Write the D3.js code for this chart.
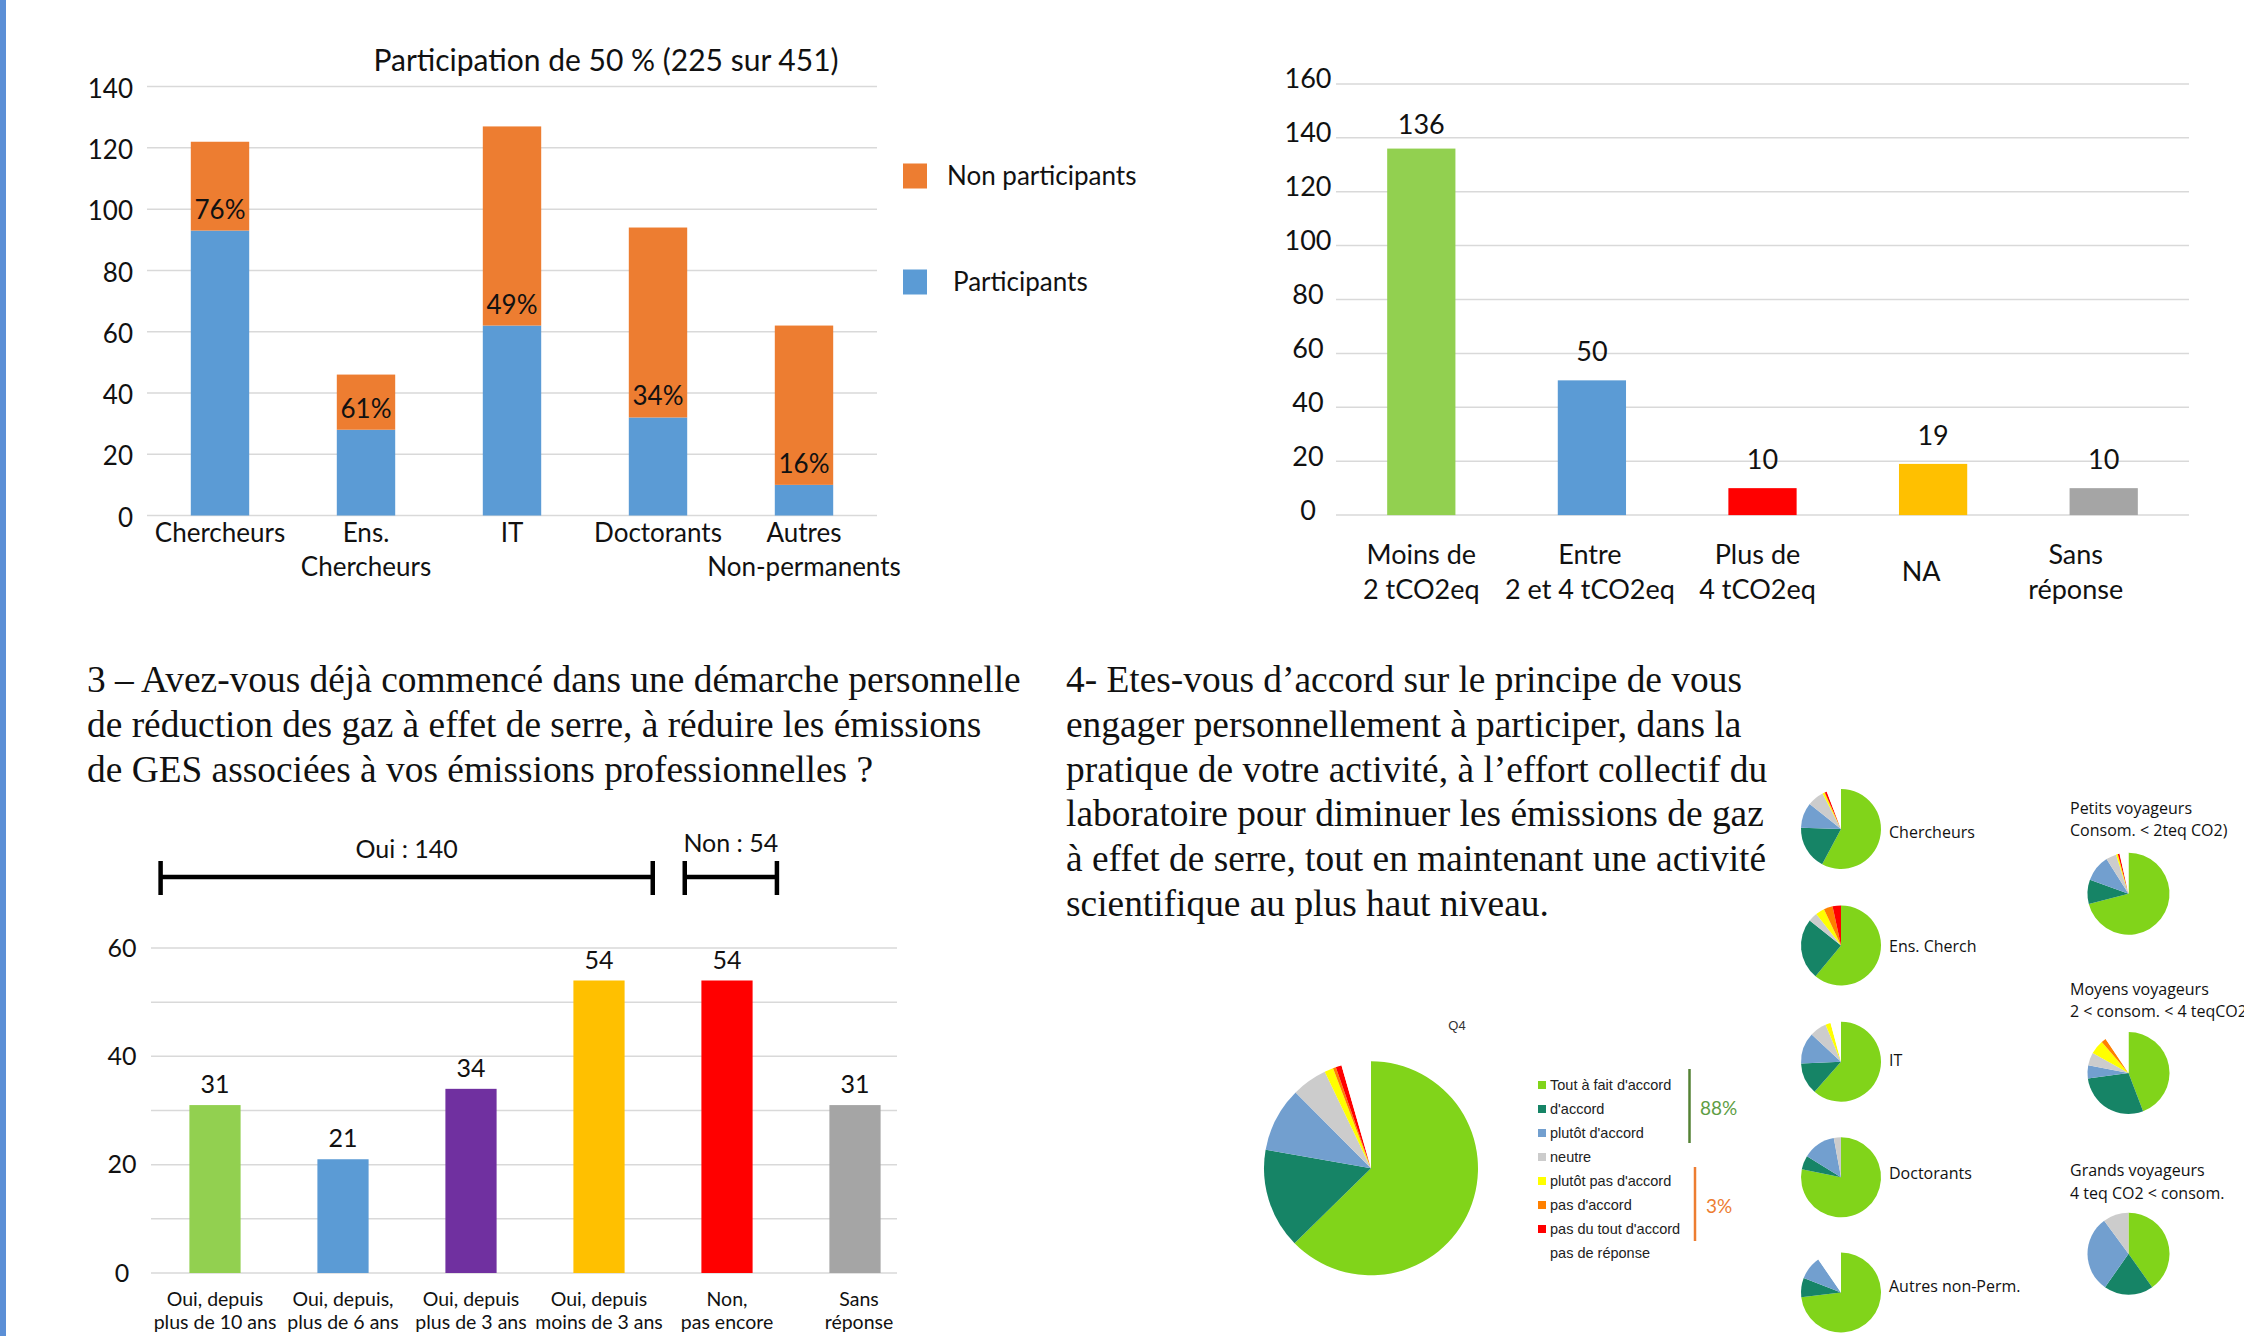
<!DOCTYPE html>
<html><head><meta charset="utf-8">
<script src="https://cdn.jsdelivr.net/npm/d3@7"></script>
<style>body{margin:0;background:#fff} svg{display:block}</style>
</head><body><svg id="c" width="2244" height="1336"></svg>
<script>
// ---------- Data ----------
// Chart 1: participation
const c1Title = "Participation de 50 % (225 sur 451)";
const c1Categories = ["Chercheurs", "Ens. Chercheurs", "IT", "Doctorants", "Autres Non-permanents"];
const c1Labels = [["Chercheurs"], ["Ens.", "Chercheurs"], ["IT"], ["Doctorants"], ["Autres", "Non-permanents"]];
const c1Participants = [93, 28, 62, 32, 10];
const c1NonParticipants = [29, 18, 65, 62, 52];
const c1Rates = ["76%", "61%", "49%", "34%", "16%"];
const c1Ticks = [0, 20, 40, 60, 80, 100, 120, 140];
const c1Series = ["Non participants", "Participants"];

// Chart 2: consumption classes
const c2Categories = ["Moins de 2 tCO2eq", "Entre 2 et 4 tCO2eq", "Plus de 4 tCO2eq", "NA", "Sans réponse"];
const c2Labels = [["Moins de", "2 tCO2eq"], ["Entre", "2 et 4 tCO2eq"], ["Plus de", "4 tCO2eq"], ["NA"], ["Sans", "réponse"]];
const c2Values = [136, 50, 10, 19, 10];
const c2Ticks = [0, 20, 40, 60, 80, 100, 120, 140, 160];

// Chart 3: question 3
const c3Title = ["3 – Avez-vous déjà commencé dans une démarche personnelle",
  "de réduction des gaz à effet de serre, à réduire les émissions",
  "de GES associées à vos émissions professionnelles ?"];
const c3Categories = ["Oui 10", "Oui 6", "Oui 3", "Oui <3", "Non", "Sans réponse"];
const c3Labels = [["Oui, depuis", "plus de 10 ans"], ["Oui, depuis,", "plus de 6 ans"], ["Oui, depuis", "plus de 3 ans"],
  ["Oui, depuis", "moins de 3 ans"], ["Non,", "pas encore"], ["Sans", "réponse"]];
const c3Values = [31, 21, 34, 54, 54, 31];
const c3Ticks = [0, 20, 40, 60];
const c3Grid = [0, 10, 20, 30, 40, 50, 60];
const c3Groups = [{label: "Oui : 140", from: 0, to: 3}, {label: "Non : 54", from: 4, to: 4}];

// Chart 4: question 4
const c4Title = ["4- Etes-vous d’accord sur le principe de vous",
  "engager personnellement à participer, dans la",
  "pratique de votre activité, à l’effort collectif du",
  "laboratoire pour diminuer les émissions de gaz",
  "à effet de serre, tout en maintenant une activité",
  "scientifique au plus haut niveau."];
const q4Answers = ["Tout à fait d'accord", "d'accord", "plutôt d'accord", "neutre",
  "plutôt pas d'accord", "pas d'accord", "pas du tout d'accord", "pas de réponse"];
const q4Total = [141, 34, 22, 12, 3, 1, 2, 10];
const q4Agree = "88%";
const q4Disagree = "3%";
// small pies (shares in %)
const q4Chercheurs = [57.8, 17.7, 10.2, 6.7, 0.8, 0.2, 0.8, 5.8];
const q4EnsCherch = [61, 24.7, 0, 3.7, 3.6, 3.6, 3.4, 0];
const q4IT = [61.5, 12.8, 12.6, 6.8, 2.1, 0, 0, 4.2];
const q4Doctorants = [78.2, 5.6, 13.3, 2.9, 0, 0, 0, 0];
const q4Autres = [73.1, 7.8, 9.5, 0, 0, 0, 0, 9.6];
const q4Petits = [71, 9.5, 10.5, 4.1, 0.7, 0, 0.7, 3.5];
const q4Moyens = [44.2, 28.7, 5.1, 5.1, 5.6, 1.9, 0, 9.4];
const q4Grands = [40.2, 19.5, 30.2, 10.1, 0, 0, 0, 0];
const q4StatusNames = ["Chercheurs", "Ens. Cherch", "IT", "Doctorants", "Autres non-Perm."];
const q4TravelNames = [["Petits voyageurs", "Consom. < 2teq CO2)"], ["Moyens voyageurs", "2 < consom. < 4 teqCO2"],
  ["Grands voyageurs", "4 teq CO2 < consom."]];

// ---------- Drawing ----------
const svg = d3.select("#c");
svg.append("rect").attr("width", 2244).attr("height", 1336).attr("fill", "#fff");
svg.append("rect").attr("x", 0).attr("y", 0).attr("width", 6).attr("height", 1336).attr("fill", "#5B8FD6");

const SANS = "Lato, 'Open Sans', sans-serif";
const SERIF = "'Liberation Serif', 'Times New Roman', serif";
const GRID = "#D9D9D9";
const TXT = "#111";

function multiline(g, lines, x, y0, dyLine, size, fam, anchor) {
  const t = g.append("text").attr("x", x).attr("font-size", size).attr("font-family", fam)
    .attr("text-anchor", anchor || "middle").attr("fill", TXT);
  lines.forEach((l, i) => t.append("tspan").attr("x", x).attr("y", y0 + i * dyLine).attr("dy", "0.35em").text(l));
  return t;
}

// ===== Chart 1 =====
{
  const g = svg.append("g");
  const x = d3.scaleBand().domain(c1Categories).range([147, 877]).paddingInner(0.6).paddingOuter(0.3);
  const y = d3.scaleLinear().domain([0, 140]).range([515.5, 86.6]);
  const col = d3.scaleOrdinal().domain(c1Series).range(["#ED7D31", "#5B9BD5"]);
  g.selectAll(".g1").data(c1Ticks).join("line").attr("x1", 147).attr("x2", 877)
    .attr("y1", d => y(d)).attr("y2", d => y(d)).attr("stroke", GRID).attr("stroke-width", 1.5);
  g.selectAll(".t1").data(c1Ticks).join("text").attr("x", 133).attr("y", d => y(d) + 2).attr("dy", "0.35em")
    .attr("text-anchor", "end").attr("font-family", SANS).attr("font-size", 26).attr("fill", TXT).text(d => d);
  g.selectAll(".bp").data(c1Categories).join("rect").attr("x", d => x(d)).attr("width", x.bandwidth())
    .attr("y", (d, i) => y(c1Participants[i])).attr("height", (d, i) => y(0) - y(c1Participants[i]))
    .attr("fill", col("Participants"));
  g.selectAll(".bn").data(c1Categories).join("rect").attr("x", d => x(d)).attr("width", x.bandwidth())
    .attr("y", (d, i) => y(c1Participants[i] + c1NonParticipants[i]))
    .attr("height", (d, i) => y(c1Participants[i]) - y(c1Participants[i] + c1NonParticipants[i]))
    .attr("fill", col("Non participants"));
  g.selectAll(".rt").data(c1Categories).join("text").attr("x", d => x(d) + x.bandwidth() / 2)
    .attr("y", (d, i) => y(c1Participants[i]) - 12).attr("text-anchor", "middle")
    .attr("font-family", SANS).attr("font-size", 26).attr("fill", TXT).text((d, i) => c1Rates[i]);
  c1Categories.forEach((c, i) => multiline(g, c1Labels[i], x(c) + x.bandwidth() / 2, 532.5, 34.6, 26, SANS));
  g.append("text").attr("x", 606).attr("y", 60).attr("dy", "0.35em").attr("text-anchor", "middle")
    .attr("font-family", SANS).attr("font-size", 30).attr("fill", TXT).text(c1Title);
  const ly = [176, 282];
  c1Series.forEach((s, i) => {
    g.append("rect").attr("x", 903).attr("y", ly[i] - 12.5).attr("width", 24).attr("height", 25).attr("fill", col(s));
    g.append("text").attr("x", i === 0 ? 947 : 953).attr("y", ly[i]).attr("dy", "0.35em")
      .attr("font-family", SANS).attr("font-size", 26).attr("fill", TXT).text(s);
  });
}

// ===== Chart 2 =====
{
  const g = svg.append("g");
  const x = d3.scaleBand().domain(c2Categories).range([1336, 2189]).paddingInner(0.6).paddingOuter(0.3);
  const y = d3.scaleLinear().domain([0, 160]).range([515.1, 83.9]);
  const col = d3.scaleOrdinal().domain(c2Categories).range(["#92D050", "#5B9BD5", "#FF0000", "#FFC000", "#A5A5A5"]);
  const labelShift = [0, -2, -5, -12, -28];
  g.selectAll(".g2").data(c2Ticks).join("line").attr("x1", 1336).attr("x2", 2189)
    .attr("y1", d => y(d)).attr("y2", d => y(d)).attr("stroke", GRID).attr("stroke-width", 1.5);
  g.selectAll(".t2").data(c2Ticks).join("text").attr("x", 1308).attr("y", d => y(d) - 5).attr("dy", "0.35em")
    .attr("text-anchor", "middle").attr("font-family", SANS).attr("font-size", 27).attr("fill", TXT).text(d => d);
  g.selectAll(".b2").data(c2Categories).join("rect").attr("x", d => x(d)).attr("width", x.bandwidth())
    .attr("y", (d, i) => y(c2Values[i])).attr("height", (d, i) => y(0) - y(c2Values[i])).attr("fill", d => col(d));
  g.selectAll(".v2").data(c2Categories).join("text").attr("x", d => x(d) + x.bandwidth() / 2)
    .attr("y", (d, i) => y(c2Values[i]) - (c2Values[i] > 100 ? 15 : 19)).attr("text-anchor", "middle")
    .attr("font-family", SANS).attr("font-size", 27).attr("fill", TXT).text((d, i) => c2Values[i]);
  c2Categories.forEach((c, i) => {
    const l = c2Labels[i];
    multiline(g, l, x(c) + x.bandwidth() / 2 + labelShift[i], l.length === 1 ? 572 : 555, 34.5, 27, SANS);
  });
}

// ===== Chart 3 =====
{
  const g = svg.append("g");
  multiline(g, c3Title, 87, 679, 44.8, 37.4, SERIF, "start");
  svg.append("clipPath").attr("id", "clip3").append("rect").attr("x", 0).attr("y", 800).attr("width", 897).attr("height", 536);
  const gc = g.append("g").attr("clip-path", "url(#clip3)");
  const x = d3.scaleBand().domain(c3Categories).range([151, 919]).paddingInner(0.6).paddingOuter(0.3);
  const y = d3.scaleLinear().domain([0, 60]).range([1273, 948]);
  const col = d3.scaleOrdinal().domain(c3Categories).range(["#92D050", "#5B9BD5", "#7030A0", "#FFC000", "#FF0000", "#A5A5A5"]);
  gc.selectAll(".g3").data(c3Grid).join("line").attr("x1", 151).attr("x2", 897)
    .attr("y1", d => y(d)).attr("y2", d => y(d)).attr("stroke", GRID).attr("stroke-width", 1.5);
  gc.selectAll(".t3").data(c3Ticks).join("text").attr("x", 122).attr("y", d => y(d)).attr("dy", "0.35em")
    .attr("text-anchor", "middle").attr("font-family", SANS).attr("font-size", 25).attr("fill", TXT).text(d => d);
  gc.selectAll(".b3").data(c3Categories).join("rect").attr("x", d => x(d)).attr("width", x.bandwidth())
    .attr("y", (d, i) => y(c3Values[i])).attr("height", (d, i) => y(0) - y(c3Values[i])).attr("fill", d => col(d));
  gc.selectAll(".v3").data(c3Categories).join("text").attr("x", d => x(d) + x.bandwidth() / 2)
    .attr("y", (d, i) => y(c3Values[i]) - 12).attr("text-anchor", "middle")
    .attr("font-family", SANS).attr("font-size", 25).attr("fill", TXT).text((d, i) => c3Values[i]);
  c3Categories.forEach((c, i) => multiline(gc, c3Labels[i], x(c) + x.bandwidth() / 2 + (i === 5 ? 4 : 0), 1299, 23.5, 19.5, SANS));
  // brackets
  const st = x.step(), bw = x.bandwidth();
  const spans = [
    {x0: x(c3Categories[0]) - 0.225 * st, x1: x(c3Categories[3]) + bw + 0.22 * st, y: 877, ty: 849},
    {x0: x(c3Categories[4]) - 0.13 * st, x1: x(c3Categories[4]) + bw + 0.19 * st, y: 877, ty: 843.5}
  ];
  c3Groups.forEach((gr, i) => {
    const s = spans[i];
    g.append("line").attr("x1", s.x0).attr("x2", s.x1).attr("y1", s.y).attr("y2", s.y).attr("stroke", "#000").attr("stroke-width", 4.5);
    [s.x0, s.x1].forEach(xx => g.append("line").attr("x1", xx).attr("x2", xx).attr("y1", s.y - 16).attr("y2", s.y + 18)
      .attr("stroke", "#000").attr("stroke-width", 4.5));
    g.append("text").attr("x", (s.x0 + s.x1) / 2).attr("y", s.ty).attr("dy", "0.35em").attr("text-anchor", "middle")
      .attr("font-family", SANS).attr("font-size", 25).attr("fill", TXT).text(gr.label);
  });
}

// ===== Chart 4 =====
{
  const g = svg.append("g");
  multiline(g, c4Title, 1066, 679, 44.8, 37.4, SERIF, "start");
  const pieCol = d3.scaleOrdinal().domain(q4Answers)
    .range(["#81D41A", "#168466", "#729FCF", "#CCCCCC", "#FFFF00", "#FF8000", "#FF0000", "#FFFFFF"]);
  const pie = d3.pie().sort(null).value(d => d.v);
  function drawPie(vals, cx, cy, r) {
    const arcs = pie(vals.map((v, i) => ({k: q4Answers[i], v})));
    const arc = d3.arc().innerRadius(0).outerRadius(r);
    g.append("g").attr("transform", `translate(${cx},${cy})`).selectAll("path").data(arcs).join("path")
      .attr("d", arc).attr("fill", d => pieCol(d.data.k));
  }
  g.append("text").attr("x", 1457).attr("y", 1025).attr("dy", "0.35em").attr("text-anchor", "middle")
    .attr("font-family", "'Liberation Sans', Arial, sans-serif").attr("font-size", 13).attr("fill", "#333").text("Q4");
  drawPie(q4Total, 1371, 1168.3, 107);
  const rowY = i => 1085 + i * 24;
  q4Answers.forEach((a, i) => {
    g.append("rect").attr("x", 1538).attr("y", rowY(i) - 4).attr("width", 8).attr("height", 8)
      .attr("fill", pieCol(a));
    g.append("text").attr("x", 1550).attr("y", rowY(i)).attr("dy", "0.35em")
      .attr("font-family", "'Liberation Sans', Arial, sans-serif").attr("font-size", 14.5).attr("fill", "#222").text(a);
  });
  g.append("line").attr("x1", 1689.5).attr("x2", 1689.5).attr("y1", rowY(0) - 16).attr("y2", rowY(2) + 10)
    .attr("stroke", "#548235").attr("stroke-width", 2.5);
  g.append("text").attr("x", 1700).attr("y", 1108).attr("dy", "0.35em").attr("font-family", SANS)
    .attr("font-size", 19).attr("fill", "#5E9E44").text(q4Agree);
  g.append("line").attr("x1", 1695).attr("x2", 1695).attr("y1", rowY(4) - 14).attr("y2", rowY(6) + 12)
    .attr("stroke", "#ED7D31").attr("stroke-width", 2.5);
  g.append("text").attr("x", 1706).attr("y", 1206).attr("dy", "0.35em").attr("font-family", SANS)
    .attr("font-size", 19).attr("fill", "#ED7D31").text(q4Disagree);

  const statusPies = [q4Chercheurs, q4EnsCherch, q4IT, q4Doctorants, q4Autres];
  const statusY = [829, 945.4, 1061.7, 1177.3, 1292.5];
  const statusLabelY = [832.7, 946.5, 1060, 1173.6, 1286];
  statusPies.forEach((p, i) => {
    drawPie(p, 1841, statusY[i], 40);
    g.append("text").attr("x", 1889).attr("y", statusLabelY[i]).attr("dy", "0.35em")
      .attr("font-family", "'Open Sans', sans-serif").attr("font-size", 16).attr("fill", TXT).text(q4StatusNames[i]);
  });
  const travelPies = [q4Petits, q4Moyens, q4Grands];
  const travelY = [893.7, 1073, 1253.7];
  const travelLabelY = [808, 989, 1170.6];
  travelPies.forEach((p, i) => {
    drawPie(p, 2128.5, travelY[i], 41);
    q4TravelNames[i].forEach((l, j) => g.append("text").attr("x", 2070).attr("y", travelLabelY[i] + j * 22.3)
      .attr("dy", "0.35em").attr("font-family", "'Open Sans', sans-serif").attr("font-size", 16).attr("fill", TXT).text(l));
  });
}
</script></body></html>
